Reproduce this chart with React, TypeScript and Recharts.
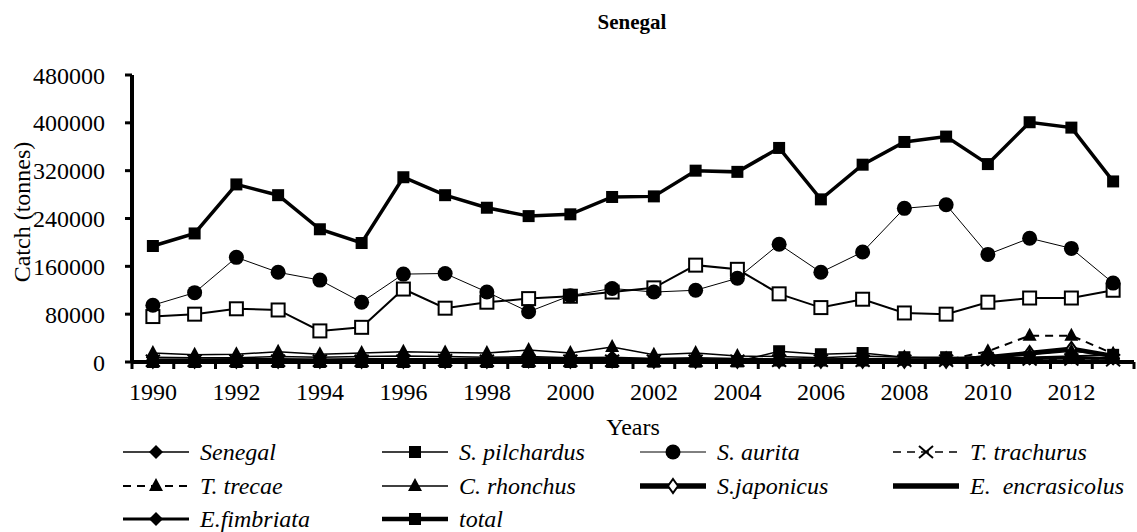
import React from 'react';
import { LineChart, Line, XAxis, YAxis, Legend, Label } from 'recharts';

const years = [1990, 1991, 1992, 1993, 1994, 1995, 1996, 1997, 1998, 1999, 2000, 2001, 2002, 2003, 2004, 2005, 2006, 2007, 2008, 2009, 2010, 2011, 2012, 2013];

const total = [194000, 215000, 297000, 279000, 222000, 199000, 309000, 279000, 258000, 244000, 247000, 276000, 277000, 320000, 318000, 358000, 272000, 330000, 368000, 377000, 331000, 401000, 392000, 302000];
const sAurita = [95000, 116000, 175000, 150000, 137000, 100000, 147000, 148000, 117000, 84000, 111000, 123000, 117000, 120000, 140000, 197000, 150000, 184000, 257000, 263000, 180000, 207000, 190000, 132000];
// open squares: drawn in the plot but not listed in the legend
const openSquares = [76000, 80000, 89000, 87000, 52000, 58000, 122000, 90000, 100000, 106000, 110000, 117000, 124000, 162000, 155000, 114000, 91000, 105000, 82000, 80000, 100000, 107000, 107000, 120000];
const senegal = [8000, 7000, 7000, 9000, 8000, 9000, 10000, 9000, 8000, 9000, 7000, 8000, 6000, 7000, 6000, 5000, 5000, 6000, 5000, 4000, 5000, 6000, 8000, 6000];
const sPilchardus = [0, 0, 0, 0, 0, 0, 0, 0, 0, 0, 0, 0, 500, 500, 1000, 18000, 13000, 15000, 8000, 8000, 7000, 8000, 10000, 12000];
const tTrachurus = [2000, 2000, 2000, 2000, 2000, 2000, 2000, 3000, 2000, 2000, 2000, 2000, 2000, 2000, 2000, 2000, 2000, 2000, 2000, 2000, 3000, 4000, 4000, 3000];
const tTrecae = [1000, 1000, 1000, 1000, 1000, 1000, 1000, 1000, 1000, 1000, 1000, 1000, 1000, 1000, 1000, 1000, 1000, 1000, 2000, 3000, 18000, 44000, 44000, 14000];
const cRhonchus = [15000, 12000, 13000, 17000, 13000, 15000, 17000, 16000, 15000, 20000, 15000, 25000, 12000, 15000, 10000, 9000, 7000, 10000, 8000, 6000, 10000, 12000, 18000, 12000];
const sJaponicus = [2000, 2000, 2000, 2000, 2000, 2000, 2000, 2000, 2000, 3000, 2000, 3000, 2000, 2000, 2000, 2000, 2000, 2000, 2000, 2000, 8000, 15000, 22000, 10000];
const eEncrasicolus = [500, 500, 500, 500, 500, 500, 500, 500, 500, 500, 500, 500, 500, 500, 500, 500, 500, 500, 500, 500, 1000, 1000, 1000, 1000];
const eFimbriata = [3000, 3000, 4000, 4000, 3000, 4000, 4000, 4000, 5000, 6000, 5000, 5000, 4000, 4000, 3000, 3000, 3000, 3000, 3000, 3000, 4000, 6000, 8000, 6000];

const yTicks = [0, 80000, 160000, 240000, 320000, 400000, 480000];

const FONT = "Liberation Serif, DejaVu Serif, serif";

type Kind = 'diamond' | 'square' | 'circle' | 'openSquare' | 'cross' | 'triangle' | 'openDiamond' | 'none';

interface Series {
  key: string;
  label: string;
  values: number[];
  kind: Kind;
  width: number;
  dash?: string;
}

const series: Series[] = [
  { key: 'eFimbriata', label: 'E.fimbriata', values: eFimbriata, kind: 'diamond', width: 3 },
  { key: 'eEncrasicolus', label: 'E.  encrasicolus', values: eEncrasicolus, kind: 'none', width: 4.5 },
  { key: 'sJaponicus', label: 'S.japonicus', values: sJaponicus, kind: 'openDiamond', width: 4.5 },
  { key: 'cRhonchus', label: 'C. rhonchus', values: cRhonchus, kind: 'triangle', width: 1.5 },
  { key: 'tTrecae', label: 'T. trecae', values: tTrecae, kind: 'triangle', width: 2, dash: '8 6' },
  { key: 'tTrachurus', label: 'T. trachurus', values: tTrachurus, kind: 'cross', width: 1.5, dash: '8 6' },
  { key: 'senegal', label: 'Senegal', values: senegal, kind: 'diamond', width: 1.5 },
  { key: 'sPilchardus', label: 'S. pilchardus', values: sPilchardus, kind: 'square', width: 1.5 },
  { key: 'openSquares', label: '', values: openSquares, kind: 'openSquare', width: 2 },
  { key: 'sAurita', label: 'S. aurita', values: sAurita, kind: 'circle', width: 1 },
  { key: 'total', label: 'total', values: total, kind: 'square', width: 3.5 },
];

const legendOrder = [
  ['senegal', 'sPilchardus', 'sAurita', 'tTrachurus'],
  ['tTrecae', 'cRhonchus', 'sJaponicus', 'eEncrasicolus'],
  ['eFimbriata', 'total'],
];

const data = years.map((year, i) => {
  const row: Record<string, number> = { year };
  series.forEach((s) => {
    row[s.key] = s.values[i];
  });
  return row;
});

const xTicks: number[] = [];
years.forEach((y) => {
  xTicks.push(y - 0.5);
  if (y % 2 === 0) xTicks.push(y);
});
xTicks.push(years[years.length - 1] + 0.5);

function Marker({ kind, cx, cy }: { kind: Kind; cx: number; cy: number }) {
  switch (kind) {
    case 'diamond':
      return <polygon points={`${cx},${cy - 7} ${cx + 7},${cy} ${cx},${cy + 7} ${cx - 7},${cy}`} fill="#000" />;
    case 'openDiamond':
      return <polygon points={`${cx},${cy - 7} ${cx + 5},${cy} ${cx},${cy + 7} ${cx - 5},${cy}`} fill="#fff" stroke="#000" strokeWidth={2} />;
    case 'square':
      return <rect x={cx - 6} y={cy - 6} width={12} height={12} fill="#000" />;
    case 'openSquare':
      return <rect x={cx - 6.5} y={cy - 6.5} width={13} height={13} fill="#fff" stroke="#000" strokeWidth={2} />;
    case 'circle':
      return <circle cx={cx} cy={cy} r={7.5} fill="#000" />;
    case 'triangle':
      return <polygon points={`${cx},${cy - 8} ${cx + 7},${cy + 5} ${cx - 7},${cy + 5}`} fill="#000" />;
    case 'cross':
      return (
        <g stroke="#000" strokeWidth={2}>
          <line x1={cx - 7} y1={cy - 6} x2={cx + 7} y2={cy + 6} />
          <line x1={cx - 7} y1={cy + 6} x2={cx + 7} y2={cy - 6} />
        </g>
      );
    default:
      return <g />;
  }
}

function YearTick(props: any) {
  const { x, y, payload } = props;
  const v = payload.value as number;
  if (!Number.isInteger(v)) {
    return <line x1={x} x2={x} y1={y} y2={y + 7} stroke="#000" strokeWidth={3} />;
  }
  return (
    <text x={x} y={y + 38} textAnchor="middle" style={{ fontFamily: FONT }} fontSize={24} fill="#000">
      {v}
    </text>
  );
}

function LegendBox() {
  const colX = [123, 382, 640, 893];
  const rowY = [452, 486, 519];
  const top = 425;
  return (
    <svg width={1137} height={107} style={{ display: 'block' }}>
      {legendOrder.map((row, r) =>
        row.map((key, c) => {
          const s = series.find((d) => d.key === key)!;
          const x0 = colX[c];
          const y0 = rowY[r] - top;
          return (
            <g key={key}>
              <line x1={x0} x2={x0 + 66} y1={y0} y2={y0} stroke="#000" strokeWidth={s.width + (s.width > 3 ? 1 : 0)} strokeDasharray={s.dash} />
              <Marker kind={s.kind} cx={x0 + 33} cy={y0} />
              <text x={x0 + 77} y={y0 + 8} fontStyle="italic" fontSize={24} fill="#000" style={{ fontFamily: FONT, whiteSpace: 'pre' }}>
                {s.label}
              </text>
            </g>
          );
        })
      )}
    </svg>
  );
}

export default function App() {
  return (
    <div style={{ position: 'absolute', left: 0, top: 0, width: 1137, height: 532, background: '#fff', fontFamily: FONT }}>
      <div
        style={{
          position: 'absolute',
          left: 0,
          top: 10,
          width: 1264,
          textAlign: 'center',
          fontFamily: FONT,
          fontWeight: 'bold',
          fontSize: 21,
          color: '#000',
        }}
      >
        Senegal
      </div>
      <LineChart width={1137} height={532} data={data} margin={{ top: 75, right: 3, left: 0, bottom: 110 }} style={{ fontFamily: FONT }}>
        <XAxis
          dataKey="year"
          type="number"
          domain={[years[0] - 0.5, years[years.length - 1] + 0.5]}
          ticks={xTicks}
          interval={0}
          tick={<YearTick />}
          tickLine={false}
          tickSize={0}
          tickMargin={0}
          height={60}
          axisLine={{ stroke: '#000', strokeWidth: 4 }}
        >
          <Label
            content={(p: any) => (
              <text
                x={p.viewBox.x + p.viewBox.width / 2}
                y={p.viewBox.y + 73}
                textAnchor="middle"
                style={{ fontFamily: FONT }}
                fontSize={24}
                fill="#000"
              >
                Years
              </text>
            )}
          />
        </XAxis>
        <YAxis
          width={132}
          domain={[0, 480000]}
          ticks={yTicks}
          interval={0}
          tickSize={7}
          tickMargin={20}
          tick={{ fontSize: 24, fill: '#000', style: { fontFamily: FONT } }}
          tickLine={{ stroke: '#000', strokeWidth: 3 }}
          axisLine={{ stroke: '#000', strokeWidth: 4 }}
        >
          <Label
            content={() => (
              <text
                x={22}
                y={212}
                transform="rotate(-90 22 212)"
                textAnchor="middle"
                dominantBaseline="central"
                style={{ fontFamily: FONT }}
                fontSize={24}
                fill="#000"
              >
                Catch (tonnes)
              </text>
            )}
          />
        </YAxis>
        <Legend
          layout="horizontal"
          verticalAlign="middle"
          align="center"
          wrapperStyle={{ top: 425, left: 0, width: 1137 }}
          content={() => <LegendBox />}
        />
        {series.map((s) => (
          <Line
            key={s.key}
            dataKey={s.key}
            name={s.label}
            stroke="#000"
            strokeWidth={s.width}
            strokeDasharray={s.dash}
            isAnimationActive={false}
            legendType="none"
            dot={(p: any) => <Marker key={`${s.key}-${p.index}`} kind={s.kind} cx={p.cx} cy={p.cy} />}
            activeDot={false}
          />
        ))}
      </LineChart>
    </div>
  );
}
